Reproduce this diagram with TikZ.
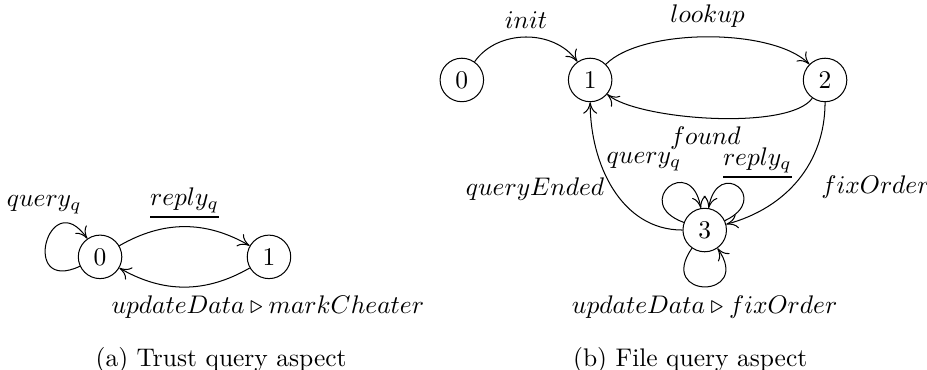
\documentclass[tikz,border=0pt]{standalone}
\usepackage{tikz}
\usetikzlibrary{arrows.meta, positioning}
\usepackage{amsmath}
\usepackage{amssymb}

% message that is sent: underlined
\newcommand{\outmsg}[1]{\vtop{\hbox{$#1$}\kern1.2pt\hrule height 0.8pt}}

\begin{document}
\begin{tikzpicture}[
        state/.style={circle, draw, minimum size=0.6cm, inner sep=0pt},
        arrow/.style={-{To[length=4.5pt, width=5.5pt]}},
    ]
        \useasboundingbox (0, 0) rectangle (12.786, 5.103);

        % Trust query aspect
        \node[state] (a0) at (1.38, 1.56) {$0$};
        \node[state] (a1) at (3.71, 1.56) {$1$};
        \draw[arrow] (a0) to[bend left=30] node[above] (reply_a) {\outmsg{reply_q}} (a1);
        \draw[arrow] (a1) to[bend left=30] node[below, xshift=1.15cm] (update_a) {$updateData \triangleright markCheater$} (a0);
        \draw[arrow] (a0) to[out=205, in=125, looseness=6] node[pos=0.8, above, xshift=-0.3cm] (query_a) {$query_q$} (a0);

        % File query aspect
        \foreach \i/\x/\y in {0/6.37/4.00, 1/8.14/4.00, 2/11.38/4.00, 3/9.72/1.93} {
            \node[state] (b\i) at (\x, \y) {$\i$};
        }
        \draw[arrow] (b0) to[bend left=55] node[above] (init_b) {$init$} (b1);
        \draw[arrow] (b1) to[bend left=45, looseness=0.65] node[above] (lookup_b) {$lookup$} (b2);
        \draw[arrow] (b2) to[out=-125, in=-40, looseness=0.5] node[below, xshift=-0.1cm] (found_b) {$found$} (b1);
        \draw[arrow] (b3) to[out=180, in=-90] node[left] (ended_b) {$queryEnded$} (b1);
        \draw[arrow] (b2) to[out=-90, in=15] node[right, xshift=0.2cm, yshift=-0.1cm] (fix_b) {$fixOrder$} (b3);

        % loops on 3
        \draw[arrow] (b3) to[out=160, in=100, looseness=6.5] node[above left, xshift=0.3cm, yshift=0.1cm] (query_b) {$query_q$} (b3);
        \draw[arrow] (b3) to[out=25, in=80, looseness=6.5] node[above right, xshift=-0.33cm] (reply_b) {\outmsg{reply_q}} (b3);
        \draw[arrow] (b3) to[out=-125, in=-55, looseness=6.3] node[below] (update_b) {$updateData \triangleright fixOrder$} (b3);

        % captions
        \node (cap_a) at (3.05, 0.14) {(a) Trust query aspect};
        \node (cap_b) at (9.52, 0.14) {(b) File query aspect};
    \end{tikzpicture}
\end{document}
